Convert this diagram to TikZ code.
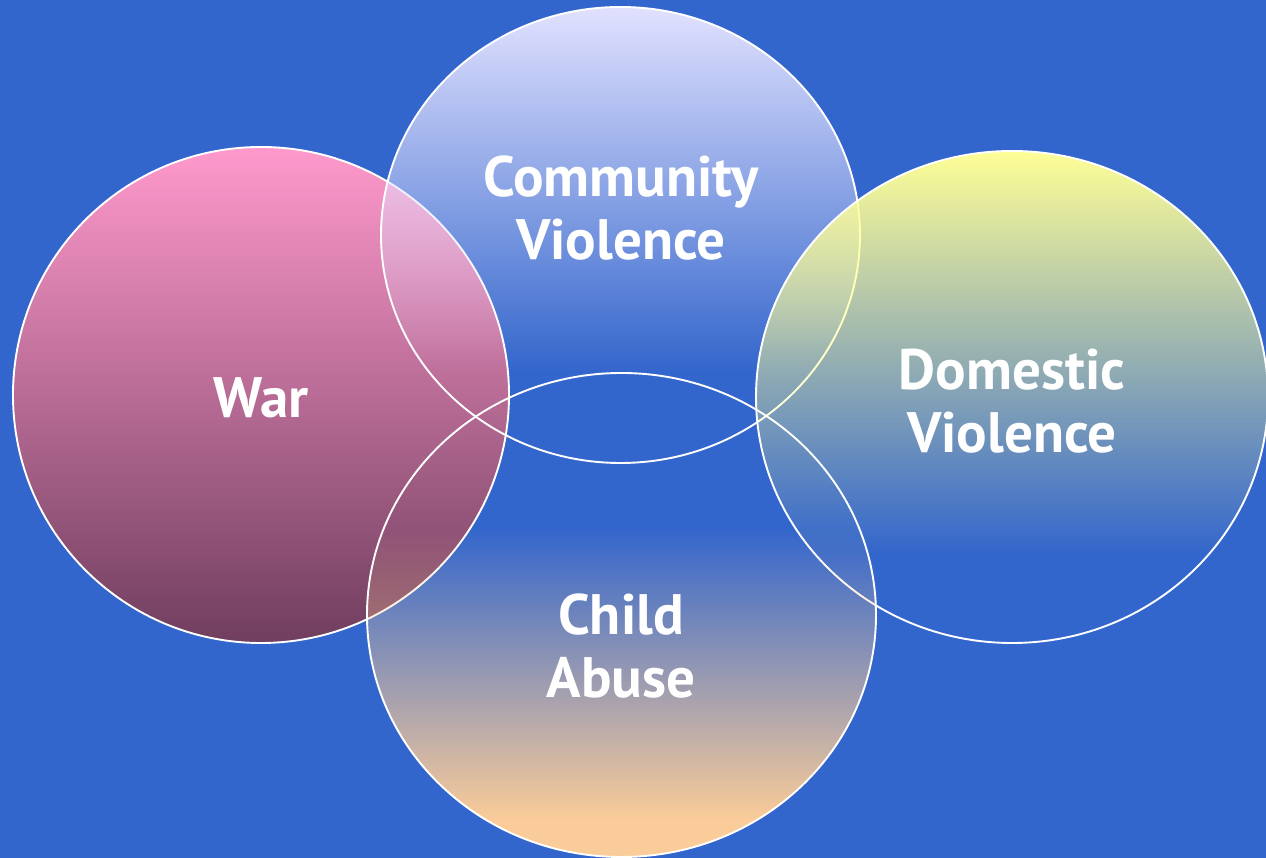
\documentclass[tikz,border=0pt]{standalone}
\usepackage{fontspec}
\setmainfont{PT Sans}
\usetikzlibrary{fadings}
\definecolor{bg}{RGB}{51,102,204}
\definecolor{warTop}{RGB}{255,153,204}
\definecolor{warBot}{RGB}{112,62,94}
\definecolor{comm}{RGB}{226,226,255}
\definecolor{dom}{RGB}{255,255,150}
\definecolor{child}{RGB}{250,204,153}
\begin{tikzfadingfrompicture}[name=fadecomm]
  \fill[transparent!100] (-50bp,-50bp) rectangle (50bp,50bp);
  \fill[transparent!0] (-50bp,25bp) rectangle (50bp,50bp);
  \shade[top color=transparent!0, bottom color=transparent!100] (-50bp,-15bp) rectangle (50bp,25bp);
\end{tikzfadingfrompicture}
\begin{tikzfadingfrompicture}[name=fadedom]
  \fill[transparent!100] (-50bp,-50bp) rectangle (50bp,50bp);
  \fill[transparent!0] (-50bp,25bp) rectangle (50bp,50bp);
  \shade[top color=transparent!0, bottom color=transparent!100] (-50bp,-16bp) rectangle (50bp,25bp);
\end{tikzfadingfrompicture}
\begin{tikzfadingfrompicture}[name=fadechild]
  \fill[transparent!100] (-50bp,-50bp) rectangle (50bp,50bp);
  \fill[transparent!0] (-50bp,-50bp) rectangle (50bp,-21bp);
  \shade[top color=transparent!100, bottom color=transparent!0] (-50bp,-21bp) rectangle (50bp,9bp);
\end{tikzfadingfrompicture}
\tikzset{
  ring/.style={draw=white, line width=1.9pt},
  lbl/.style={text=white, font=\bfseries\fontsize{57}{63}\selectfont, align=center, inner sep=0pt}
}
\begin{document}
\begin{tikzpicture}[x=1pt,y=1pt]
\fill[bg] (0,0) rectangle (1266,858);
\useasboundingbox (0,0) rectangle (1266,858);
% War
\shade[top color=warTop, bottom color=warBot] (261,463) ellipse (248 and 248);
\draw[ring] (261,463) ellipse (248 and 248);
% Community Violence
\fill[comm, path fading=fadecomm] (620.5,623) ellipse (239.5 and 228);
\draw[ring] (620.5,623) ellipse (239.5 and 228);
% Domestic Violence
\fill[dom, path fading=fadedom] (1012,461) ellipse (256 and 246);
\draw[ring] (1012,461) ellipse (256 and 246);
% Child Abuse
\fill[child, path fading=fadechild] (621.5,243) ellipse (254.5 and 242);
\draw[ring] (621.5,243) ellipse (254.5 and 242);
% labels
\node[lbl] (war) at (261,460) {War};
\node[lbl] (cv) at (621,650) {Community\\Violence};
\node[lbl] (dv) at (1012,457) {Domestic\\Violence};
\node[lbl] (ca) at (621,212) {Child\\Abuse};
\end{tikzpicture}
\end{document}
